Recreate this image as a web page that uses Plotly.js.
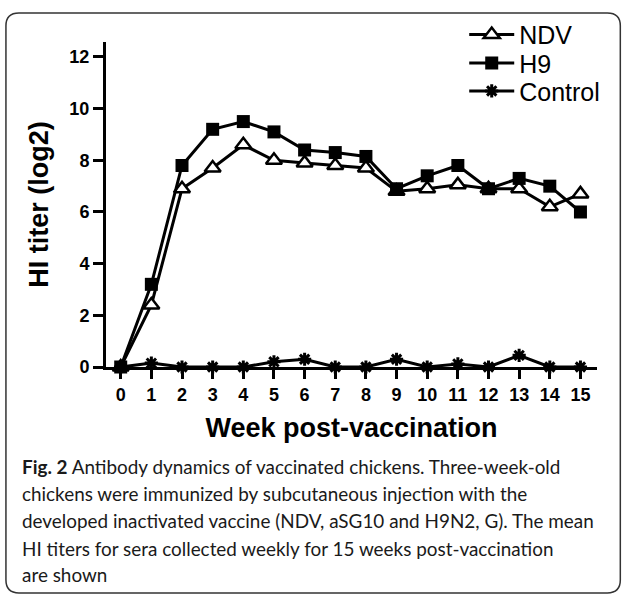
<!DOCTYPE html>
<html>
<head>
<meta charset="utf-8">
<script src="https://cdn.plot.ly/plotly-3.0.1.min.js"></script>
<style>html,body{margin:0;padding:0;background:#fff;}#chart{width:626px;height:597px;}</style>
</head>
<body>
<div id="chart"></div>
<script>
var weeks = [0,1,2,3,4,5,6,7,8,9,10,11,12,13,14,15];
var ndv = [0,2.4,6.9,7.7,8.6,8.0,7.9,7.8,7.7,6.8,6.9,7.05,6.9,6.9,6.2,6.7];
var h9 = [0,3.2,7.8,9.2,9.5,9.1,8.4,8.3,8.15,6.9,7.4,7.8,6.9,7.3,7.0,6.0];
var control = [0,0.15,0,0,0,0.2,0.3,0,0,0.3,0,0.12,0,0.45,0,0];
var seriesNames = ["NDV","H9","Control"];
var yTicks = [0,2,4,6,8,10,12];
var xTitle = "Week post-vaccination";
var yTitle = "HI titer (log2)";
var captionLines = [
  "<b>Fig. 2</b> Antibody dynamics of vaccinated chickens. Three-week-old",
  "chickens were immunized by subcutaneous injection with the",
  "developed inactivated vaccine (NDV, aSG10 and H9N2, G). The mean",
  "HI titers for sera collected weekly for 15 weeks post-vaccination",
  "are shown"
];

var W = 626, H = 597;
var L = 106, R = 29.3, T = 38.3, B = 230.3;
var pw = W - L - R, ph = H - T - B;
function px2x(px){ return (px - L) / pw; }
function py2y(py){ return (H - B - py) / ph; }

var arial = "Liberation Sans, Arial, sans-serif";
var traces = [
  {x: weeks, y: ndv, name: seriesNames[0], type: "scatter", mode: "lines+markers", legend: "legend",
   line: {color: "#000", width: 3},
   marker: {symbol: "triangle-up", size: 14, color: "#fff", line: {color: "#000", width: 2.5}},
   cliponaxis: false},
  {x: weeks, y: h9, name: seriesNames[1], type: "scatter", mode: "lines+markers", legend: "legend2",
   line: {color: "#000", width: 3},
   marker: {symbol: "square", size: 13, color: "#000", line: {color: "#000", width: 0}},
   cliponaxis: false},
  {x: weeks, y: control, name: seriesNames[2], type: "scatter", mode: "lines+markers", legend: "legend3",
   line: {color: "#000", width: 3},
   marker: {symbol: "asterisk", size: 11, color: "#000", line: {color: "#000", width: 3}},
   cliponaxis: false}
];

function roundedRect(x0, y0, x1, y1, r){
  var X = function(p){ return px2x(p).toFixed(5); };
  var Y = function(p){ return py2y(p).toFixed(5); };
  return "M" + X(x0 + r) + "," + Y(y0) +
    " L" + X(x1 - r) + "," + Y(y0) +
    " Q" + X(x1) + "," + Y(y0) + " " + X(x1) + "," + Y(y0 + r) +
    " L" + X(x1) + "," + Y(y1 - r) +
    " Q" + X(x1) + "," + Y(y1) + " " + X(x1 - r) + "," + Y(y1) +
    " L" + X(x0 + r) + "," + Y(y1) +
    " Q" + X(x0) + "," + Y(y1) + " " + X(x0) + "," + Y(y1 - r) +
    " L" + X(x0) + "," + Y(y0 + r) +
    " Q" + X(x0) + "," + Y(y0) + " " + X(x0 + r) + "," + Y(y0) + " Z";
}

var captionBase = [476, 503.3, 530.7, 558.3, 585];
var annotations = captionLines.map(function(t, i){
  return {text: t, xref: "paper", yref: "paper", x: px2x(20), y: py2y(captionBase[i] + 5),
    xanchor: "left", yanchor: "bottom", showarrow: false, align: "left",
    font: {family: "Lato, Open Sans, sans-serif", size: 18.9, color: "#1a1a1a"}};
});

function legendAt(cy){
  return {x: px2x(464), y: py2y(cy), xanchor: "left", yanchor: "middle", itemwidth: 45,
    font: {family: arial, size: 25, color: "#000"}, bgcolor: "rgba(0,0,0,0)", borderwidth: 0};
}

var layout = {
  width: W, height: H,
  margin: {l: L, r: R, t: T, b: B, pad: 0},
  paper_bgcolor: "#fff", plot_bgcolor: "#fff",
  showlegend: true,
  legend: legendAt(31), legend2: legendAt(59.7), legend3: legendAt(88),
  xaxis: {range: [-0.48, 15.54], tickmode: "array", tickvals: weeks, ticktext: weeks.map(String),
    showline: true, linewidth: 3, linecolor: "#000", ticks: "outside", ticklen: 9, tickwidth: 3, tickcolor: "#000",
    showgrid: false, zeroline: false, automargin: false,
    tickfont: {family: arial, size: 18, color: "#000", weight: "bold"},
    title: {text: xTitle, font: {family: arial, size: 27, color: "#000", weight: "bold"}, standoff: 15}},
  yaxis: {range: [0, 12.58], tickmode: "array", tickvals: yTicks, ticktext: yTicks.map(String),
    showline: true, linewidth: 3, linecolor: "#000", ticks: "outside", ticklen: 10, tickwidth: 3, tickcolor: "#000",
    showgrid: false, zeroline: false, automargin: false,
    tickfont: {family: arial, size: 18, color: "#000", weight: "bold"},
    title: {text: yTitle, font: {family: arial, size: 27, color: "#000", weight: "bold"}, standoff: 13}},
  annotations: annotations,
  shapes: [{type: "path", xref: "paper", yref: "paper", path: roundedRect(6, 9, 620, 595, 13),
    line: {color: "#333", width: 1.5}, fillcolor: "rgba(0,0,0,0)", layer: "below"}]
};

Plotly.newPlot("chart", traces, layout, {displayModeBar: false, staticPlot: true});
</script>
</body>
</html>
